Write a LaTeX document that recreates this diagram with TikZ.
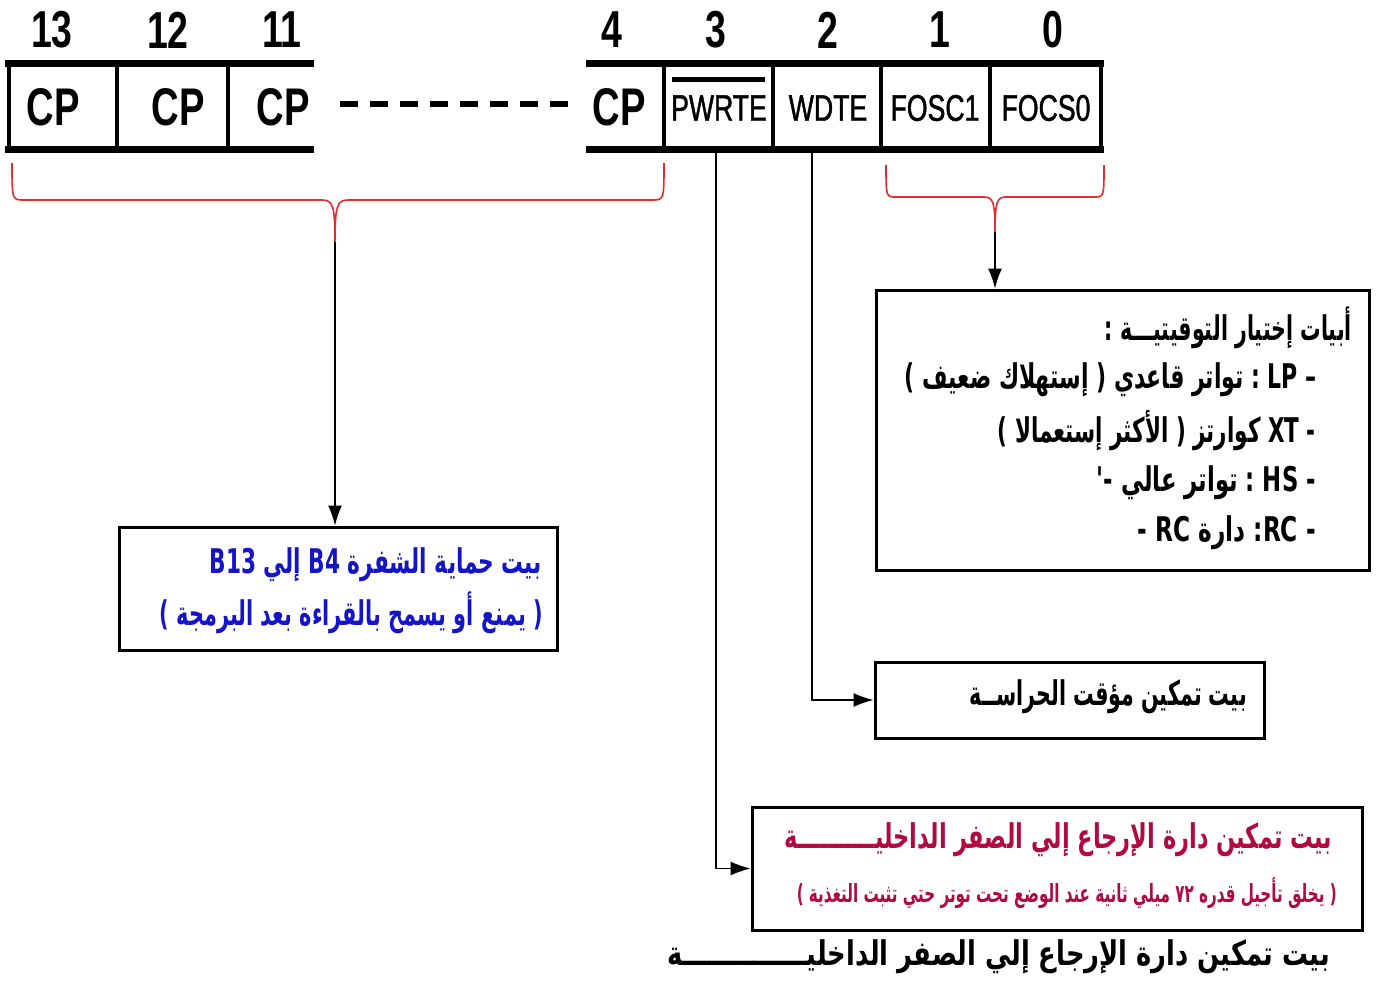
\documentclass[tikz,border=0pt]{standalone}
\usepackage{fontspec}
\usepackage{graphicx}
\usetikzlibrary{arrows.meta}
\TeXXeTstate=1
\newfontfamily\arabicfont[Script=Arabic]{DejaVu Sans}
\newfontfamily\narrowfont[FakeStretch=0.72]{Liberation Sans}
\newfontfamily\narrowmedium[FakeStretch=0.72,FakeBold=1.2]{Liberation Sans}
\definecolor{protblue}{RGB}{20,20,200}
\definecolor{porcrimson}{RGB}{175,10,65}
\definecolor{bracered}{RGB}{225,45,45}
% one line of text, squeezed to a given width
\newcommand\fitline[2]{\resizebox{#1}{\height}{#2}}
\tikzset{
  bar/.style={line width=7pt},
  divider/.style={line width=4pt},
  bitnum/.style={inner sep=0pt, font=\narrowfont\bfseries\fontsize{52}{52}\selectfont},
  cpcell/.style={inner sep=0pt, font=\narrowfont\bfseries\fontsize{53}{53}\selectfont},
  namecell/.style={inner sep=0pt, font=\narrowmedium\fontsize{37}{37}\selectfont},
  infobox/.style={draw, line width=3pt, inner sep=0pt},
  txt/.style={inner sep=0pt, anchor=east, font=\arabicfont\bfseries\fontsize{34}{34}\selectfont},
  smalltxt/.style={inner sep=0pt, anchor=east, font=\arabicfont\bfseries\fontsize{25}{25}\selectfont},
  link/.style={line width=1.3pt, -{Latex[length=20pt,width=14pt]}},
  brace/.style={draw=bracered, line width=1.6pt},
}
\begin{document}
\begin{tikzpicture}[x=1pt,y=-1pt]
\useasboundingbox (0,0) rectangle (1383,983);

% bit numbers
\node[bitnum] (n13) at (52,30) {13};
\node[bitnum] (n12) at (168,30) {12};
\node[bitnum] (n11) at (282,30) {11};
\node[bitnum] (n4)  at (612,30) {4};
\node[bitnum] (n3)  at (716,30) {3};
\node[bitnum] (n2)  at (828,30) {2};
\node[bitnum] (n1)  at (940,30) {1};
\node[bitnum] (n0)  at (1053,30) {0};

% register frame, high part
\draw[bar] (5,63) -- (314,63);
\draw[bar] (5,149) -- (314,149);
\foreach \x in {9,117,228} \draw[divider] (\x,63) -- (\x,149);
% register frame, low part
\draw[bar] (586,63) -- (1104,63);
\draw[bar] (586,149) -- (1104,149);
\foreach \x in {664,773,881,990,1101} \draw[divider] (\x,63) -- (\x,149);

% cell contents
\node[cpcell] (c13) at (53,107) {CP};
\node[cpcell] (c12) at (178,107) {CP};
\node[cpcell] (c11) at (283,107) {CP};
\node[cpcell] (c4)  at (619,107) {CP};
\node[namecell] (pwrte) at (719,108) {PWRTE};
\node[namecell] (wdte)  at (828,108) {WDTE};
\node[namecell] (fosc1) at (935,108) {FOSC1};
\node[namecell] (fosc0) at (1046,108) {FOCS0};
\draw[line width=5pt] (672,79) -- (765,79);

% omitted bits 10..5
\draw[line width=6pt, dash pattern=on 18pt off 12pt] (340,104) -- (570,104);

% braces
\coordinate (tipL) at (335,242);
\coordinate (tipR) at (995,232);
\draw[brace] (12,163) .. controls (12,200) and (12,200) .. (24,200) -- (322,200)
  .. controls (333,200) and (335,206) .. (tipL);
\draw[brace] (664,163) .. controls (664,200) and (664,200) .. (652,200) -- (348,200)
  .. controls (337,200) and (335,206) .. (tipL);
\draw[brace] (886,165) .. controls (886,197) and (886,197) .. (896,197) -- (984,197)
  .. controls (993,197) and (995,202) .. (tipR);
\draw[brace] (1104,165) .. controls (1104,197) and (1104,197) .. (1094,197) -- (1006,197)
  .. controls (997,197) and (995,202) .. (tipR);

% description boxes
\node[infobox, minimum width=438pt, minimum height=123pt] (cpbox)  at (338,588.5) {};
\node[infobox, minimum width=493pt, minimum height=280pt] (oscbox) at (1122.5,430) {};
\node[infobox, minimum width=389pt, minimum height=76pt]  (wdtbox) at (1069.5,700) {};
\node[infobox, minimum width=610pt, minimum height=123pt] (porbox) at (1057,868.5) {};

% oscillator selection
\node[txt] (osc1) at (1352,328) {\fitline{247pt}{\beginR أبيات إختيار التوقيتيـــة :\endR}};
\node[txt] (osc2) at (1317,380) {\fitline{412pt}{\beginR – LP : تواتر قاعدي ( إستهلاك ضعيف )\endR}};
\node[txt] (osc3) at (1316,431) {\fitline{318pt}{\beginR - XT كوارتز ( الأكثر إستعمالا )\endR}};
\node[txt] (osc4) at (1316,483) {\fitline{219pt}{\beginR - HS : تواتر عالي -'\endR}};
\node[txt] (osc5) at (1316,533) {\fitline{178pt}{\beginR - RC\kern0pt: دارة RC -\endR}};

% code protection
\node[txt, text=protblue] (cp1) at (542,565) {\fitline{332pt}{\beginR بيت حماية الشفرة B4 إلي B13\endR}};
\node[txt, text=protblue] (cp2) at (543,613) {\fitline{383pt}{\beginR ( يمنع أو يسمح بالقراءة بعد البرمجة )\endR}};

% watchdog
\node[txt] (wdt1) at (1247,697) {\fitline{277pt}{\beginR بيت تمكين مؤقت الحراســة\endR}};

% power-up timer
\node[txt, text=porcrimson] (por1) at (1332,840) {\fitline{547pt}{\beginR بيت تمكين دارة الإرجاع إلي الصفر الداخليــــــــــة\endR}};
\node[smalltxt, text=porcrimson] (por2) at (1337,893) {\fitline{540pt}{\beginR ( يخلق تأجيل قدره ٧٢ ميلي ثانية عند الوضع تحت توتر حتي تثبت التغذية )\endR}};
\node[txt] (caption) at (1330,957) {\fitline{662pt}{\beginR بيت تمكين دارة الإرجاع إلي الصفر الداخليــــــــــــــة\endR}};

% connectors
\coordinate (pwrTap) at (716,153);
\coordinate (wdtTap) at (812,153);
\draw[link] (tipL) -- (tipL |- cpbox.north);
\draw[link] (tipR) -- (tipR |- oscbox.north);
\draw[link] (wdtTap) |- (wdtbox.west);
\draw[link] (pwrTap) |- (porbox.west);
\end{tikzpicture}
\end{document}
